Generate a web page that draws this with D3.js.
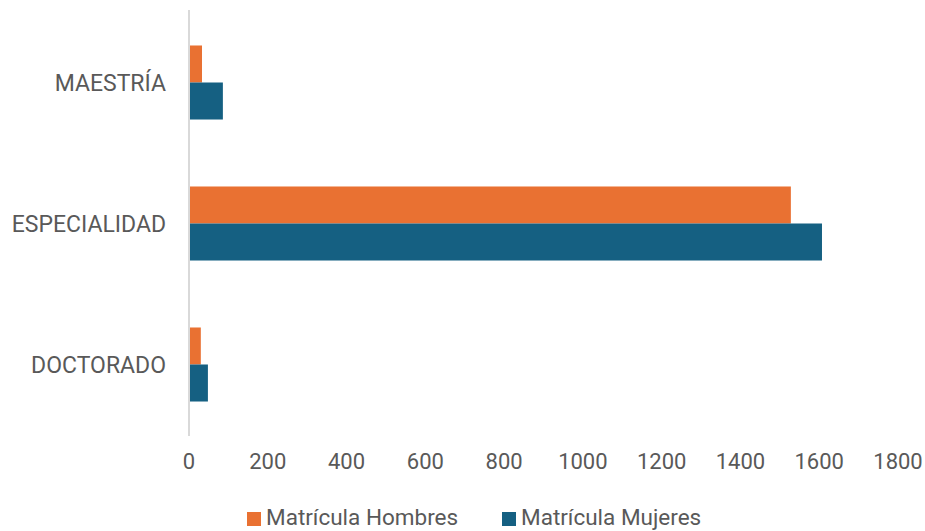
<!DOCTYPE html>
<html>
<head>
<meta charset="utf-8">
<script src="https://cdn.jsdelivr.net/npm/d3@7"></script>
<style>
  body { margin: 0; background: #fff; }
  text { font-family: Roboto, "Noto Sans", sans-serif; fill: #595959; }
</style>
</head>
<body>
<div id="chart"></div>
<script>
// data
let categories = ["MAESTRÍA", "ESPECIALIDAD", "DOCTORADO"];
let hombres = [33, 1528, 30];
let mujeres = [86, 1607, 48];
let seriesNames = ["Matrícula Hombres", "Matrícula Mujeres"];
let ticks = [0, 200, 400, 600, 800, 1000, 1200, 1400, 1600, 1800];

let colors = ["#E97132", "#156082"];

let W = 925, H = 531;
let margin = {top: 12, right: 28, bottom: 96, left: 189};
let width = W - margin.left - margin.right,
    height = H - margin.top - margin.bottom;

let svg = d3.select("#chart")
    .append("svg")
    .attr("width", W)
    .attr("height", H)
    .append("g")
    .attr("transform", "translate(" + margin.left + "," + margin.top + ")");

let x = d3.scaleLinear()
    .domain([0, 1800])
    .range([0, 709]);

let y = d3.scaleBand()
    .domain(categories)
    .range([0, height])
    .paddingInner(0.475)
    .paddingOuter(0.2375);

let ySub = d3.scaleBand()
    .domain([0, 1])
    .range([0, y.bandwidth()]);

// category labels
svg.selectAll(".cat")
    .data(categories)
    .enter()
    .append("text")
    .attr("class", "cat")
    .attr("x", -23)
    .attr("y", function(d) { return y(d) + y.bandwidth() / 2; })
    .attr("dy", "0.35em")
    .attr("text-anchor", "end")
    .style("font-size", "23px")
    .text(function(d) { return d; });

// x tick labels
svg.selectAll(".tick-label")
    .data(ticks)
    .enter()
    .append("text")
    .attr("class", "tick-label")
    .attr("x", function(d) { return x(d); })
    .attr("y", height + 34)
    .attr("text-anchor", "middle")
    .style("font-size", "22px")
    .text(function(d) { return d; });

// bars
let series = [hombres, mujeres];
series.forEach(function(vals, i) {
    svg.selectAll(".bar" + i)
        .data(vals)
        .enter()
        .append("rect")
        .attr("class", "bar" + i)
        .attr("x", x(0))
        .attr("y", function(d, j) { return y(categories[j]) + ySub(i); })
        .attr("width", function(d) { return x(d) - x(0); })
        .attr("height", ySub.bandwidth())
        .attr("fill", colors[i]);
});

// vertical axis line
svg.append("line")
    .attr("x1", x(0))
    .attr("x2", x(0))
    .attr("y1", -2)
    .attr("y2", height + 1)
    .attr("stroke", "#D9D9D9")
    .attr("stroke-width", 2);

// legend
let legendX = [247, 502];
let legend = svg.selectAll(".legend")
    .data(seriesNames)
    .enter()
    .append("g")
    .attr("class", "legend")
    .attr("transform", function(d, i) {
        return "translate(" + (legendX[i] - margin.left) + "," + (518 - margin.top) + ")";
    });

legend.append("rect")
    .attr("x", 0)
    .attr("y", -6)
    .attr("width", 14)
    .attr("height", 14)
    .attr("fill", function(d, i) { return colors[i]; });

legend.append("text")
    .attr("x", 19)
    .attr("y", 0)
    .attr("dy", "0.3em")
    .style("font-size", "22.5px")
    .text(function(d) { return d; });
</script>
</body>
</html>
